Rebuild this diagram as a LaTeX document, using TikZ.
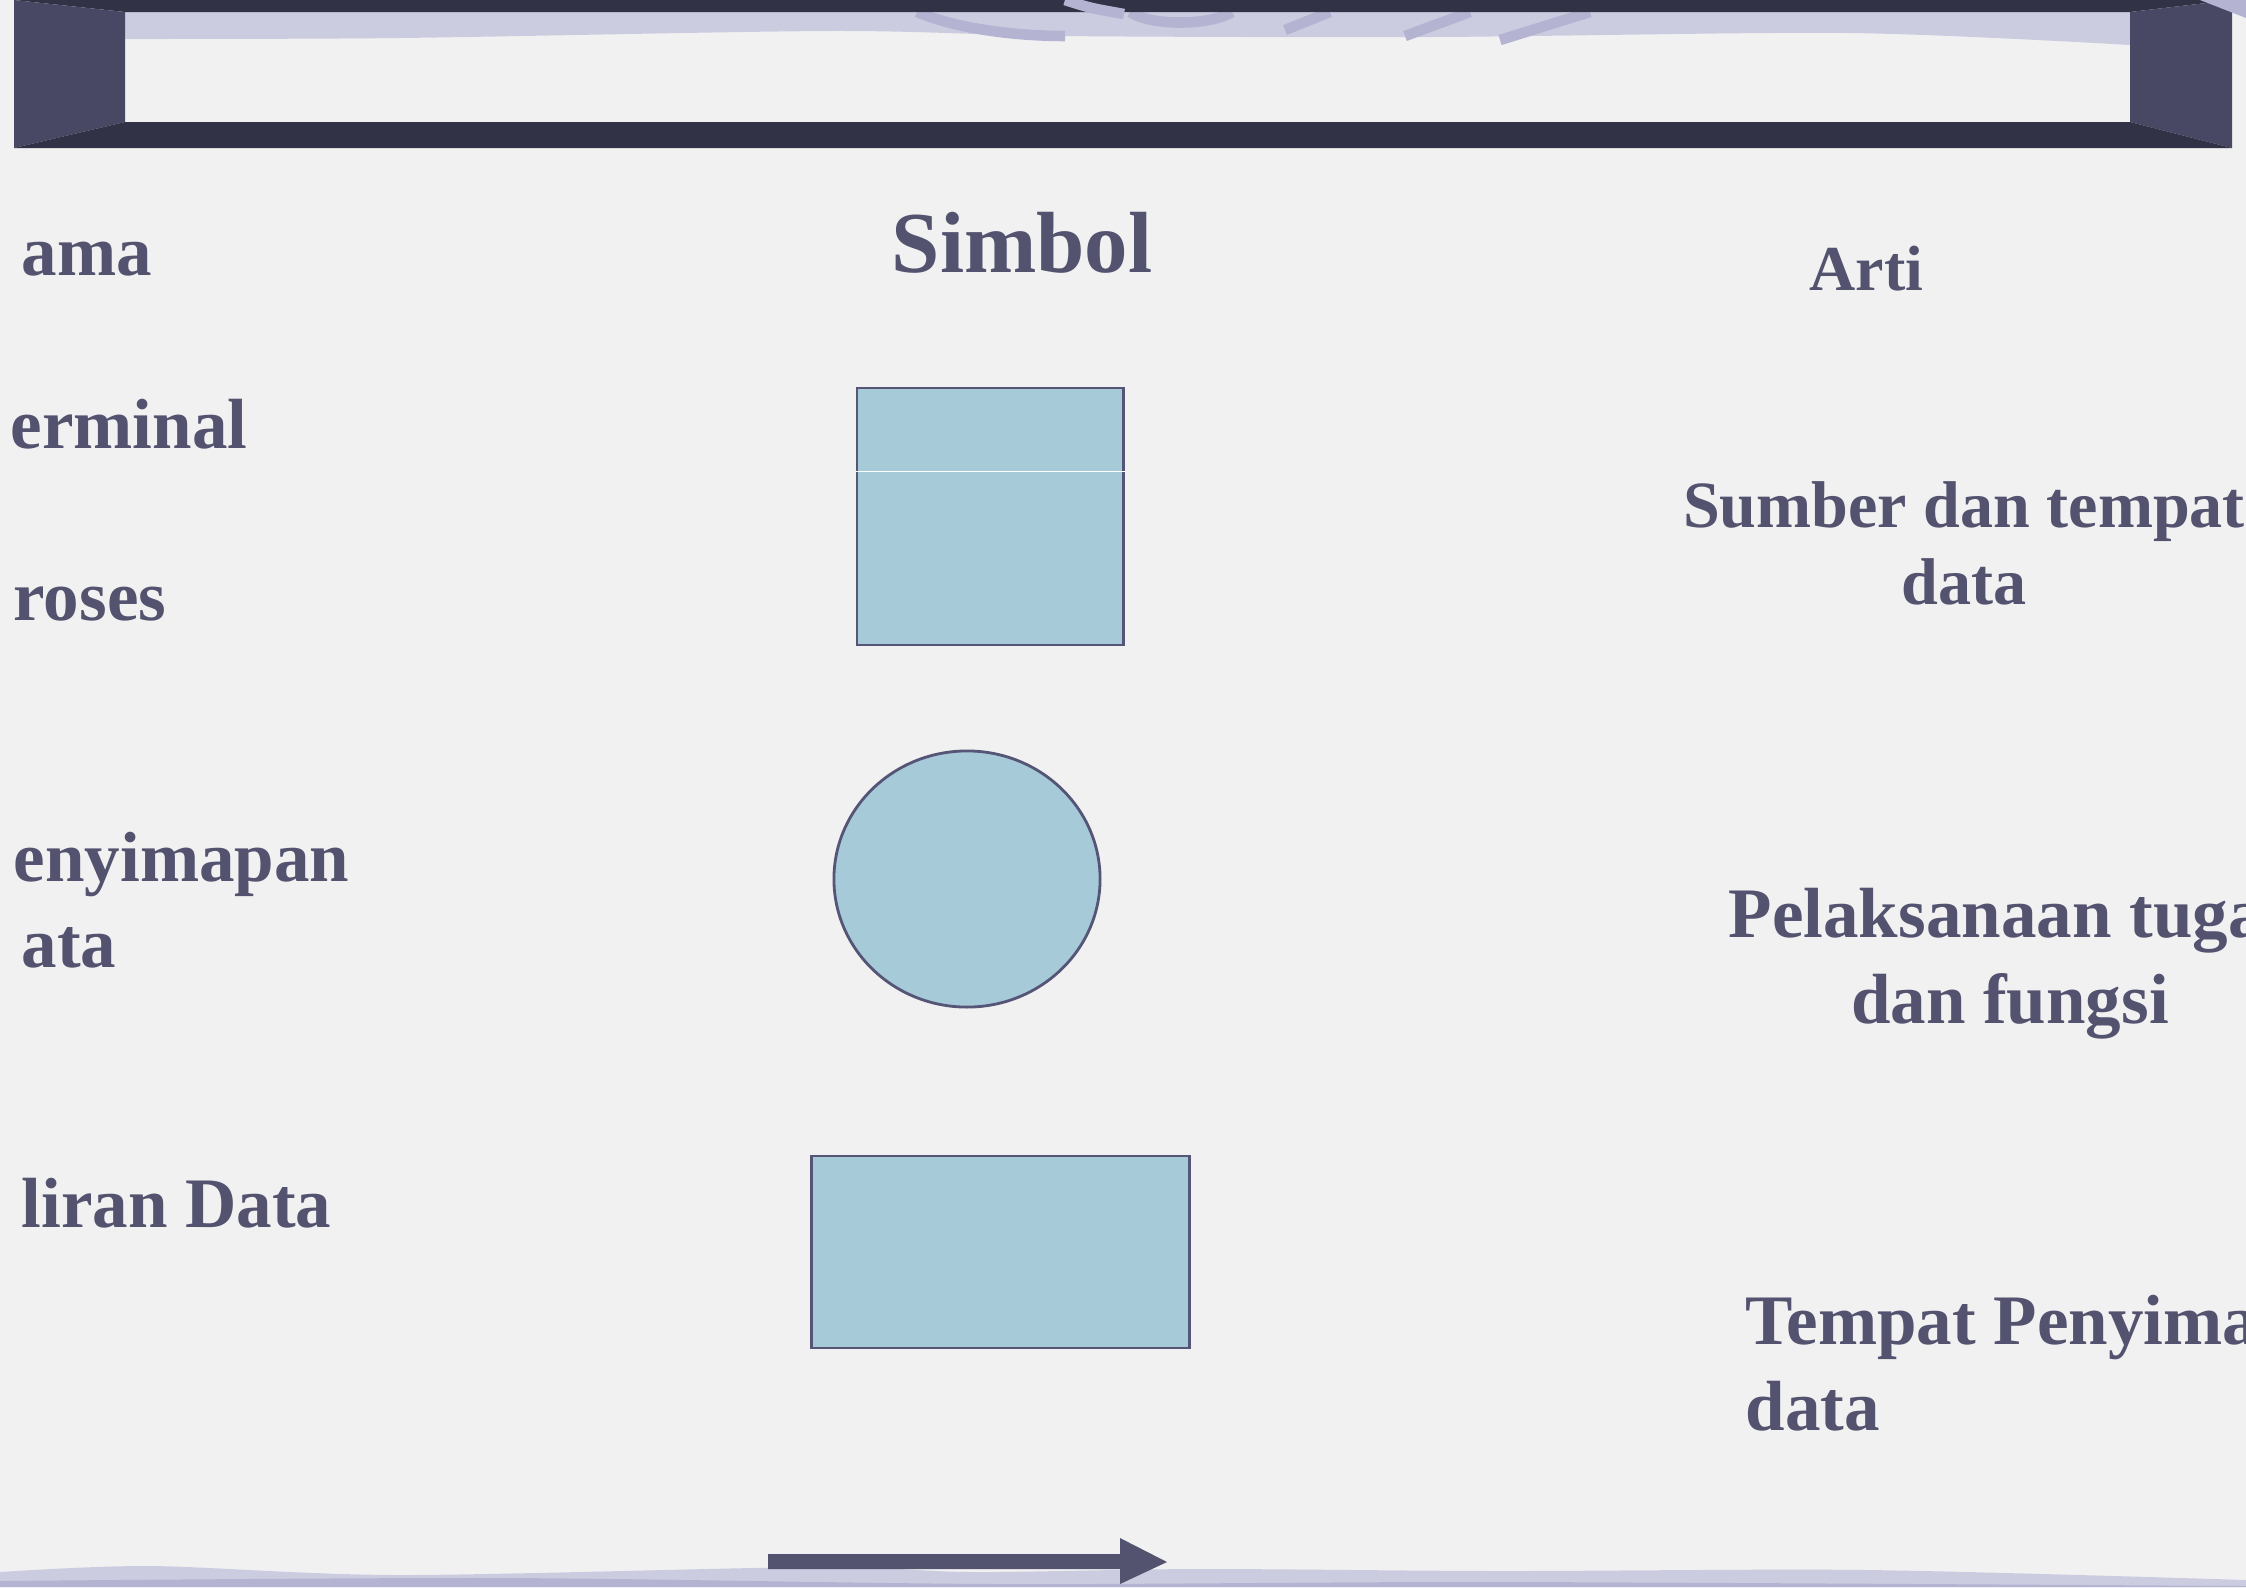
\documentclass[tikz,border=0pt]{standalone}
\usepackage{fontspec}
\setmainfont{Liberation Serif}
\usepackage{xcolor}
\definecolor{slatetext}{RGB}{83,83,112}
\definecolor{symbolfill}{RGB}{166,202,216}
\definecolor{symboledge}{RGB}{85,85,119}
\definecolor{framedark}{RGB}{50,50,70}
\definecolor{frameside}{RGB}{72,72,100}
\definecolor{lavender}{RGB}{204,204,224}
\definecolor{lavenderdark}{RGB}{180,180,210}
\definecolor{paper}{RGB}{241,241,242}
\usetikzlibrary{shapes.geometric}

\begin{document}
\begin{tikzpicture}[x=0.01cm, y=-0.01cm,
  label/.style={text=slatetext, inner sep=0pt, font=\bfseries\fontsize{20.2}{24.2}\selectfont},
  symbol/.style={draw=symboledge, line width=0.8pt, fill=symbolfill, inner sep=0pt}]
  \useasboundingbox (0,0) rectangle (2246,1587);
  \fill[paper] (0,0) rectangle (2246,1587);

  % Header frame
  \fill[lavender] (125,12) -- (2130,12) -- plot[smooth] coordinates {(2130,45) (1848,33) (1432,37) (1060,36) (831,31) (400,38) (125,39)} -- cycle;
  \draw[lavenderdark, line width=3pt] (917,12) .. controls (960,30) and (1020,36) .. (1065,36);
  \draw[lavenderdark, line width=3pt] (1130,12) .. controls (1150,26) and (1210,26) .. (1232,12);
  \draw[lavenderdark, line width=3pt] (1330,12) -- (1285,30);
  \draw[lavenderdark, line width=3pt] (1470,12) -- (1405,36);
  \draw[lavenderdark, line width=3pt] (1590,12) -- (1500,40);
  \fill[framedark] (14,0) -- (2232,0) -- (2130,12) -- (125,12) -- cycle;
  \fill[frameside] (14,0) -- (125,12) -- (125,122) -- (14,148) -- cycle;
  \fill[frameside] (2232,0) -- (2130,12) -- (2130,122) -- (2232,148) -- cycle;
  \fill[framedark] (125,122) -- (2130,122) -- (2232,148) -- (14,148) -- cycle;
  \draw[lavenderdark, line width=3pt] (1065,0) .. controls (1090,8) .. (1124,14);
  \fill[lavenderdark] (2200,0) -- (2246,0) -- (2246,18) -- cycle;

  % Column headers
  \node[label, font=\bfseries\fontsize{24.7}{29}\selectfont, anchor=base west] (simbol) at (891,272) {Simbol};
  \node[label, font=\bfseries\fontsize{18.2}{22}\selectfont, anchor=base west] (arti) at (1809,290) {Arti};

  % Names (left column)
  \node[label, anchor=base west] (nama) at (21,275) {ama};
  \node[label, anchor=base west] (terminal) at (10,448) {erminal};
  \node[label, anchor=base west] (proses) at (13,620) {roses};
  \node[label, anchor=base west, align=left] (penyimpanan) at (13,967) {enyimapan\\\hspace{0.08cm}ata};
  \node[label, anchor=base west] (aliran) at (21,1227) {liran Data};

  % Symbols
  \node[symbol, minimum width=2.66cm, minimum height=2.57cm] (terminalsym) at (990,516.5) {};
  \draw[white, line width=0.5pt] ([yshift=-0.85cm]terminalsym.north west) -- ([yshift=-0.85cm]terminalsym.north east);
  \node[symbol, ellipse, minimum width=2.66cm, minimum height=2.56cm] (prosessym) at (967,879) {};
  \node[symbol, minimum width=3.77cm, minimum height=1.92cm] (simpansym) at (1000.5,1252) {};

  % Meanings (right column)
  \node[label, font=\bfseries\fontsize{18.8}{21.9}\selectfont, align=center, anchor=base] (sumber) at (1964,604) {Sumber dan tempat\\data};
  \node[label, align=center, anchor=base] (pelaksanaan) at (2010,1023) {Pelaksanaan tuga\phantom{s}\\dan fungsi};
  \node[label, align=left, anchor=base west] (tempatsimpan) at (1745,1430) {Tempat Penyima\\data};

  % Footer wave and flow arrow
  \fill[lavender] (0,1587) -- plot[smooth] coordinates {(0,1572) (150,1566) (400,1575) (817,1567) (973,1572) (1200,1569) (1500,1571) (1867,1570) (2246,1580)} -- (2246,1587) -- cycle;
  \fill[lavenderdark] (0,1587) -- plot[smooth] coordinates {(0,1581) (500,1578) (1000,1584) (1500,1582) (2246,1586)} -- (2246,1587) -- cycle;
  \fill[slatetext] (768,1554) -- (1120,1554) -- (1120,1538) -- (1167,1562) -- (1120,1584) -- (1120,1569) -- (768,1569) -- cycle;
\end{tikzpicture}
\end{document}
